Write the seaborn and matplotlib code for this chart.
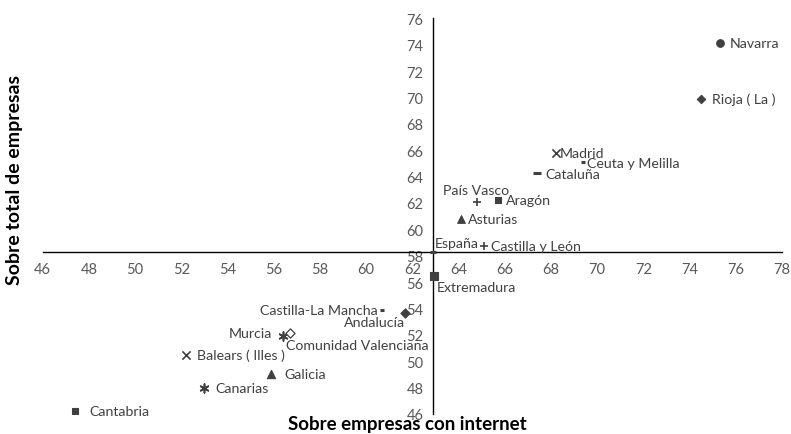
import matplotlib
matplotlib.use('Agg')
import matplotlib.pyplot as plt
import seaborn as sns
import pandas as pd

regiones = ['Navarra', 'Rioja ( La )', 'Madrid', 'Ceuta y Melilla', 'Cataluña',
            'País Vasco', 'Aragón', 'Asturias', 'España', 'Castilla y León',
            'Extremadura', 'Castilla-La Mancha', 'Andalucía', 'Murcia',
            'Comunidad Valenciana', 'Balears ( Illes )', 'Galicia', 'Canarias',
            'Cantabria']
con_internet = [75.3, 74.5, 68.2, 69.4, 67.4, 64.8, 65.7, 64.1, 62.9, 65.1,
                62.95, 60.7, 61.7, 56.4, 56.7, 52.2, 55.9, 53.0, 47.4]
total_empresas = [74.1, 69.9, 65.8, 65.1, 64.25, 62.1, 62.2, 60.8, 58.25, 58.7,
                  56.5, 53.9, 53.65, 51.9, 52.15, 50.5, 49.0, 47.95, 46.2]

df = pd.DataFrame({'region': regiones, 'x': con_internet, 'y': total_empresas})

espana_x = df.loc[df['region'] == 'España', 'x'].iloc[0]
espana_y = df.loc[df['region'] == 'España', 'y'].iloc[0]

# marcador, tamaño, relleno, (offset pt), alineación
estilos = {
    'Navarra': ('o', 30, True, (7, 0), 'left', 'center'),
    'Rioja ( La )': ('D', 18, True, (8, 0), 'left', 'center'),
    'Madrid': ('x', 35, False, (3, 0), 'left', 'center'),
    'Ceuta y Melilla': ('_', 12, False, (3, -1), 'left', 'center'),
    'Cataluña': ('_', 30, False, (6, -0.5), 'left', 'center'),
    'País Vasco': ('+', 40, False, (-1, 8.5), 'center', 'center'),
    'Aragón': ('s', 25, True, (6, 0), 'left', 'center'),
    'Asturias': ('^', 30, True, (5, 0), 'left', 'center'),
    'España': ('_', 20, False, (1, 6.5), 'left', 'center'),
    'Castilla y León': ('+', 40, False, (5, 0.5), 'left', 'center'),
    'Extremadura': ('s', 30, True, (1.5, -8), 'left', 'center'),
    'Castilla-La Mancha': ('_', 12, False, (-3, 0), 'right', 'center'),
    'Andalucía': ('D', 22, True, (0, -6.5), 'right', 'center'),
    'Murcia': ((6, 2, 0), 40, False, (-8, 2), 'right', 'center'),
    'Comunidad Valenciana': ('D', 22, False, (-3, -9), 'left', 'center'),
    'Balears ( Illes )': ('x', 35, False, (8, 0), 'left', 'center'),
    'Galicia': ('^', 35, True, (9, 0), 'left', 'center'),
    'Canarias': ((6, 2, 0), 40, False, (8, 0), 'left', 'center'),
    'Cantabria': ('s', 22, True, (10, 0), 'left', 'center'),
}

gris = '#404040'
fuente = ['Lato', 'DejaVu Sans']

sns.set_style('white')
plt.rcParams['font.family'] = fuente

fig = plt.figure(figsize=(7.91, 4.35), dpi=100)
ax = fig.add_axes([42.7 / 791, 1 - 415 / 435, (782 - 42.7) / 791, (415 - 19.3) / 435])

for _, fila in df.iterrows():
    m, s, relleno, off, ha, va = estilos[fila['region']]
    if relleno:
        sns.scatterplot(x=[fila['x']], y=[fila['y']], marker=m, s=s, color=gris,
                        edgecolor=gris, linewidth=0.8, ax=ax, zorder=3)
    elif m == 'D':
        sns.scatterplot(x=[fila['x']], y=[fila['y']], marker=m, s=s, facecolor='white',
                        edgecolor=gris, linewidth=0.9, ax=ax, zorder=3)
    else:
        sns.scatterplot(x=[fila['x']], y=[fila['y']], marker=m, s=s, color=gris,
                        linewidth=1.2 if m != '_' else 2.2, ax=ax, zorder=3)
    ax.annotate(fila['region'], (fila['x'], fila['y']), xytext=off,
                textcoords='offset points', ha=ha, va=va, fontsize=10.2,
                color=gris, zorder=4)

ax.set_xlim(46, 78)
ax.set_ylim(46, 76)
ax.set_xticks(range(46, 79, 2))
ax.set_yticks(range(46, 77, 2))

ax.spines['left'].set_position(('data', espana_x))
ax.spines['bottom'].set_position(('data', espana_y))
ax.spines['top'].set_visible(False)
ax.spines['right'].set_visible(False)
for sp in ('left', 'bottom'):
    ax.spines[sp].set_color('#000000')
    ax.spines[sp].set_linewidth(1.0)

ax.tick_params(axis='both', direction='out', length=4, width=1, color='#000000',
               labelsize=10.5, labelcolor='#595959', pad=3)
ax.set_xlabel('')
ax.set_ylabel('')

fig.text(407 / 791, 1 - 425 / 435, 'Sobre empresas con internet', ha='center',
         va='center', fontsize=13.5, fontweight='bold', color='#000000')
fig.text(15 / 791, 1 - 180 / 435, 'Sobre total de empresas', ha='center',
         va='center', rotation=90, fontsize=14, fontweight='bold', color='#000000')

fig.savefig('out.png', dpi=100)
